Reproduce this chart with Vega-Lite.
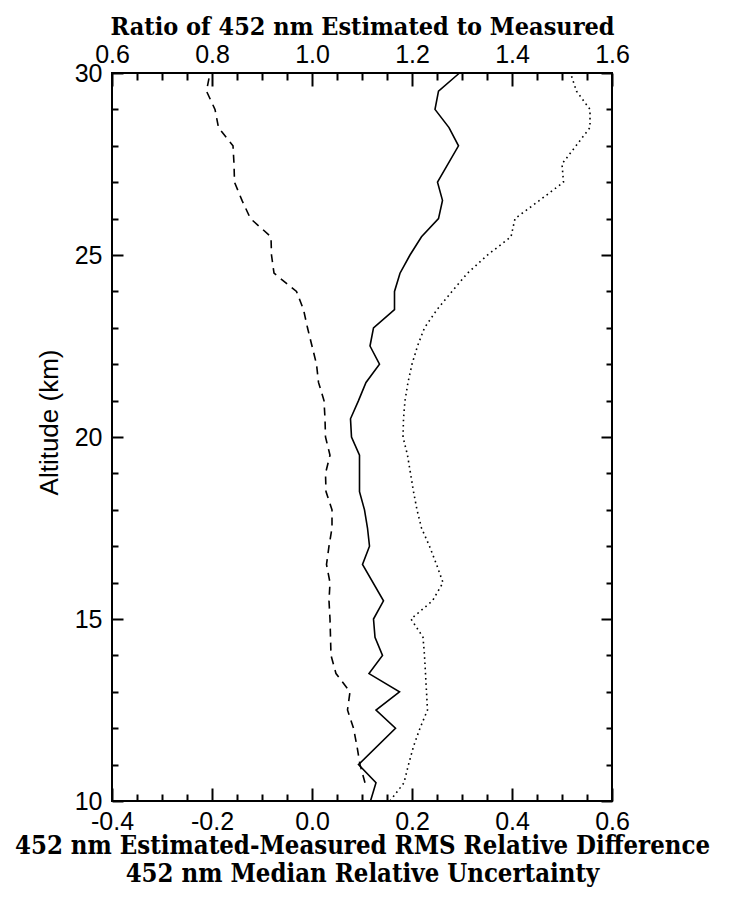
{
  "$schema": "https://vega.github.io/schema/vega-lite/v6.json",
  "width": 500,
  "height": 728,
  "autosize": {"type": "none"},
  "padding": {"left": 112, "top": 73, "right": 123, "bottom": 98},
  "background": "white",
  "config": {
    "view": {"stroke": "black", "strokeWidth": 2},
    "axis": {
      "grid": false,
      "domain": false,
      "labelFont": "Liberation Sans",
      "labelFontSize": 25,
      "labelColor": "black",
      "labelFlush": false,
      "labelOverlap": false,
      "tickColor": "black",
      "tickWidth": 2,
      "titleColor": "black"
    }
  },
  "datasets": {
    "rms": [
      {"alt": 30.0, "value": 0.295}, {"alt": 29.5, "value": 0.253}, {"alt": 29.0, "value": 0.246},
      {"alt": 28.5, "value": 0.274}, {"alt": 28.0, "value": 0.293}, {"alt": 27.0, "value": 0.251},
      {"alt": 26.5, "value": 0.261}, {"alt": 26.0, "value": 0.253}, {"alt": 25.5, "value": 0.219},
      {"alt": 25.0, "value": 0.196}, {"alt": 24.5, "value": 0.176}, {"alt": 24.0, "value": 0.165},
      {"alt": 23.5, "value": 0.165}, {"alt": 23.0, "value": 0.123}, {"alt": 22.5, "value": 0.116},
      {"alt": 22.0, "value": 0.135}, {"alt": 21.5, "value": 0.108}, {"alt": 21.0, "value": 0.093},
      {"alt": 20.5, "value": 0.077}, {"alt": 20.0, "value": 0.079}, {"alt": 19.5, "value": 0.095},
      {"alt": 19.0, "value": 0.095}, {"alt": 18.5, "value": 0.095}, {"alt": 18.0, "value": 0.105},
      {"alt": 17.5, "value": 0.111}, {"alt": 17.0, "value": 0.115}, {"alt": 16.5, "value": 0.101},
      {"alt": 15.5, "value": 0.143}, {"alt": 15.0, "value": 0.123}, {"alt": 14.5, "value": 0.126},
      {"alt": 14.0, "value": 0.141}, {"alt": 13.5, "value": 0.114}, {"alt": 13.0, "value": 0.175},
      {"alt": 12.5, "value": 0.128}, {"alt": 12.0, "value": 0.167}, {"alt": 11.0, "value": 0.093},
      {"alt": 10.5, "value": 0.128}, {"alt": 10.0, "value": 0.117}
    ],
    "unc": [
      {"alt": 30.0, "value": 0.517}, {"alt": 29.5, "value": 0.529}, {"alt": 29.0, "value": 0.556},
      {"alt": 28.5, "value": 0.556}, {"alt": 28.0, "value": 0.528}, {"alt": 27.5, "value": 0.500},
      {"alt": 27.0, "value": 0.503}, {"alt": 26.5, "value": 0.455}, {"alt": 26.0, "value": 0.406},
      {"alt": 25.5, "value": 0.398}, {"alt": 25.0, "value": 0.351}, {"alt": 24.5, "value": 0.311},
      {"alt": 24.0, "value": 0.280}, {"alt": 23.5, "value": 0.250}, {"alt": 23.0, "value": 0.225},
      {"alt": 22.5, "value": 0.211}, {"alt": 22.0, "value": 0.200}, {"alt": 21.5, "value": 0.192},
      {"alt": 21.0, "value": 0.186}, {"alt": 20.5, "value": 0.183}, {"alt": 20.0, "value": 0.182},
      {"alt": 19.5, "value": 0.191}, {"alt": 19.0, "value": 0.197}, {"alt": 18.5, "value": 0.203},
      {"alt": 18.0, "value": 0.210}, {"alt": 17.5, "value": 0.219}, {"alt": 17.0, "value": 0.235},
      {"alt": 16.5, "value": 0.249}, {"alt": 16.0, "value": 0.262}, {"alt": 15.5, "value": 0.241},
      {"alt": 15.0, "value": 0.198}, {"alt": 14.5, "value": 0.222}, {"alt": 14.0, "value": 0.225},
      {"alt": 13.5, "value": 0.227}, {"alt": 13.0, "value": 0.229}, {"alt": 12.5, "value": 0.231},
      {"alt": 12.0, "value": 0.216}, {"alt": 11.5, "value": 0.203}, {"alt": 11.0, "value": 0.193},
      {"alt": 10.5, "value": 0.184}, {"alt": 10.0, "value": 0.156}
    ],
    "ratio": [
      {"alt": 30.0, "ratio": 0.796}, {"alt": 29.5, "ratio": 0.789}, {"alt": 29.0, "ratio": 0.806},
      {"alt": 28.5, "ratio": 0.813}, {"alt": 28.0, "ratio": 0.842}, {"alt": 27.5, "ratio": 0.844},
      {"alt": 27.0, "ratio": 0.845}, {"alt": 26.5, "ratio": 0.860}, {"alt": 26.0, "ratio": 0.877},
      {"alt": 25.5, "ratio": 0.918}, {"alt": 25.0, "ratio": 0.919}, {"alt": 24.5, "ratio": 0.924},
      {"alt": 24.0, "ratio": 0.969}, {"alt": 23.5, "ratio": 0.983}, {"alt": 23.0, "ratio": 0.991},
      {"alt": 22.5, "ratio": 1.000}, {"alt": 22.0, "ratio": 1.009}, {"alt": 21.5, "ratio": 1.013},
      {"alt": 21.0, "ratio": 1.024}, {"alt": 20.5, "ratio": 1.026}, {"alt": 20.0, "ratio": 1.027},
      {"alt": 19.5, "ratio": 1.036}, {"alt": 19.0, "ratio": 1.027}, {"alt": 18.5, "ratio": 1.028},
      {"alt": 18.0, "ratio": 1.040}, {"alt": 17.5, "ratio": 1.040}, {"alt": 17.0, "ratio": 1.034},
      {"alt": 16.5, "ratio": 1.029}, {"alt": 16.0, "ratio": 1.036}, {"alt": 15.5, "ratio": 1.034},
      {"alt": 15.0, "ratio": 1.036}, {"alt": 14.5, "ratio": 1.037}, {"alt": 14.0, "ratio": 1.038},
      {"alt": 13.5, "ratio": 1.048}, {"alt": 13.0, "ratio": 1.076}, {"alt": 12.5, "ratio": 1.071},
      {"alt": 12.0, "ratio": 1.083}, {"alt": 11.5, "ratio": 1.090}, {"alt": 11.0, "ratio": 1.096},
      {"alt": 10.5, "ratio": 1.106}
    ]
  },
  "layer": [
    {
      "data": {"name": "rms"},
      "mark": {"type": "line", "color": "black", "strokeWidth": 1.6},
      "encoding": {
        "x": {
          "field": "value", "type": "quantitative",
          "scale": {"domain": [-0.4, 0.6], "nice": false, "zero": false},
          "axis": {
            "orient": "bottom",
            "values": [-0.4, -0.2, 0, 0.2, 0.4, 0.6],
            "labelExpr": "replace(format(datum.value, '.1f'), '\u2212', '-')",
            "ticks": false,
            "labelPadding": 8,
            "title": ["452 nm Estimated-Measured RMS Relative Difference", "452 nm Median Relative Uncertainty"],
            "titleFont": "DejaVu Serif Condensed",
            "titleFontWeight": "bold",
            "titleFontSize": 25.5,
            "titleLineHeight": 28,
            "titlePadding": -1
          }
        },
        "y": {
          "field": "alt", "type": "quantitative",
          "scale": {"domain": [10, 30], "nice": false, "zero": false},
          "axis": {
            "orient": "left",
            "values": [10, 15, 20, 25, 30],
            "ticks": false,
            "labelPadding": 10,
            "title": "Altitude (km)",
            "titleFont": "Liberation Sans",
            "titleFontWeight": "normal",
            "titleFontSize": 26,
            "titlePadding": 12,
            "titleY": 349
          }
        },
        "order": {"field": "alt", "type": "quantitative"}
      }
    },
    {
      "data": {"name": "unc"},
      "mark": {"type": "line", "color": "black", "strokeWidth": 1.6, "strokeDash": [1.6, 3.6]},
      "encoding": {
        "x": {
          "field": "value", "type": "quantitative",
          "scale": {"domain": [-0.4, 0.6], "nice": false, "zero": false},
          "axis": {
            "orient": "bottom",
            "values": [-0.4, -0.35, -0.3, -0.25, -0.2, -0.15, -0.1, -0.05, 0, 0.05, 0.1, 0.15, 0.2, 0.25, 0.3, 0.35, 0.4, 0.45, 0.5, 0.55, 0.6],
            "labels": false,
            "title": null,
            "tickSize": {"condition": {"test": "abs(round(datum.value * 20)) % 4 == 0", "value": -13}, "value": -7}
          }
        },
        "y": {
          "field": "alt", "type": "quantitative",
          "scale": {"domain": [10, 30], "nice": false, "zero": false},
          "axis": {
            "orient": "left",
            "values": [10, 11, 12, 13, 14, 15, 16, 17, 18, 19, 20, 21, 22, 23, 24, 25, 26, 27, 28, 29, 30],
            "labels": false,
            "title": null,
            "tickSize": {"condition": {"test": "datum.value % 5 == 0", "value": -11}, "value": -6}
          }
        },
        "order": {"field": "alt", "type": "quantitative"}
      }
    },
    {
      "data": {"name": "ratio"},
      "mark": {"type": "line", "color": "black", "strokeWidth": 1.6, "strokeDash": [8, 6]},
      "encoding": {
        "x": {
          "field": "ratio", "type": "quantitative",
          "scale": {"domain": [0.6, 1.6], "nice": false, "zero": false},
          "axis": {
            "orient": "top",
            "values": [0.6, 0.8, 1.0, 1.2, 1.4, 1.6],
            "format": ".1f",
            "ticks": false,
            "labelPadding": 6,
            "title": "Ratio of 452 nm Estimated to Measured",
            "titleFont": "DejaVu Serif Condensed",
            "titleFontWeight": "bold",
            "titleFontSize": 25,
            "titlePadding": 3
          }
        },
        "y": {
          "field": "alt", "type": "quantitative",
          "scale": {"domain": [10, 30], "nice": false, "zero": false},
          "axis": null
        },
        "order": {"field": "alt", "type": "quantitative"}
      }
    },
    {
      "data": {"name": "ratio"},
      "mark": {"type": "line", "color": "black", "opacity": 0},
      "encoding": {
        "x": {
          "field": "ratio", "type": "quantitative",
          "scale": {"domain": [0.6, 1.6], "nice": false, "zero": false},
          "axis": {
            "orient": "top",
            "values": [0.6, 0.65, 0.7, 0.75, 0.8, 0.85, 0.9, 0.95, 1.0, 1.05, 1.1, 1.15, 1.2, 1.25, 1.3, 1.35, 1.4, 1.45, 1.5, 1.55, 1.6],
            "labels": false,
            "title": null,
            "tickSize": {"condition": {"test": "abs(round(datum.value * 20)) % 4 == 0", "value": -13}, "value": -7}
          }
        },
        "y": {
          "field": "alt", "type": "quantitative",
          "scale": {"domain": [10, 30], "nice": false, "zero": false},
          "axis": {
            "orient": "right",
            "values": [10, 11, 12, 13, 14, 15, 16, 17, 18, 19, 20, 21, 22, 23, 24, 25, 26, 27, 28, 29, 30],
            "labels": false,
            "title": null,
            "tickSize": {"condition": {"test": "datum.value % 5 == 0", "value": -11}, "value": -6}
          }
        },
        "order": {"field": "alt", "type": "quantitative"}
      }
    }
  ],
  "resolve": {
    "scale": {"x": "independent"},
    "axis": {"x": "independent", "y": "independent"}
  }
}
